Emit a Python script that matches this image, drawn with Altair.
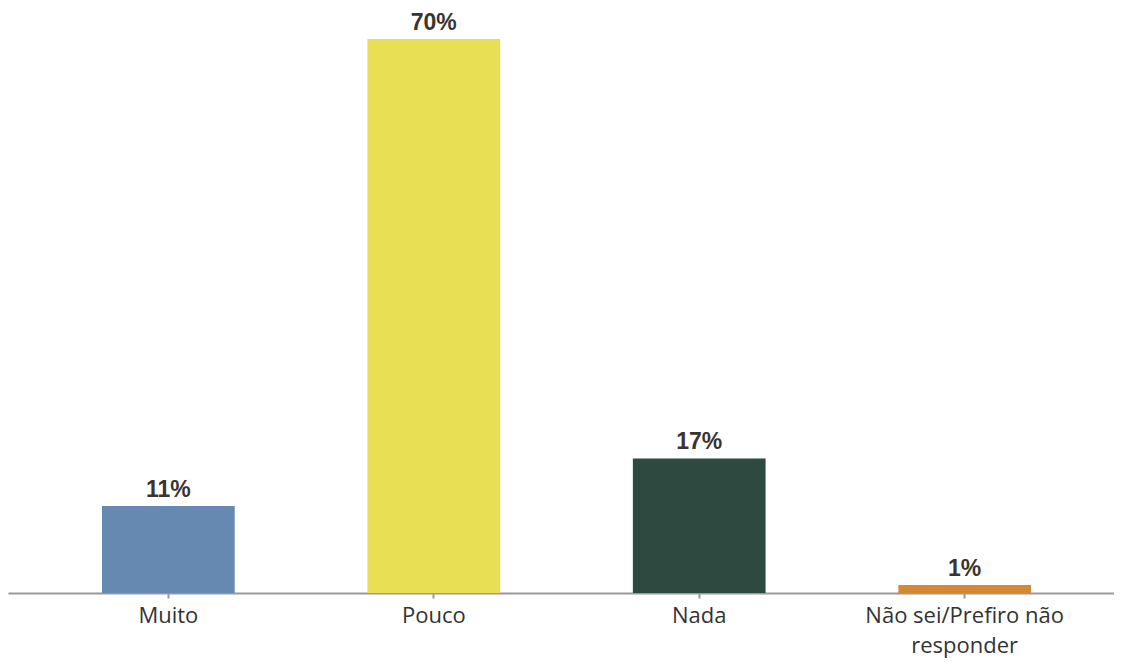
import altair as alt
import pandas as pd

categories = ["Muito", "Pouco", "Nada", "Não sei/Prefiro não responder"]
values = [11, 70, 17, 1]
labels = ["11%", "70%", "17%", "1%"]
colors = ["#6589B0", "#E8DF55", "#2C4A40", "#D58834"]

df = pd.DataFrame({"cat": categories, "val": values, "lab": labels})

x = alt.X(
    "cat:N",
    sort=categories,
    scale=alt.Scale(paddingInner=0.5, paddingOuter=0.354, range=[0, 1117]),
    axis=alt.Axis(
        title=None,
        labelAngle=0,
        labelFont="Open Sans",
        labelFontSize=22,
        labelColor="#333333",
        labelPadding=7,
        labelLineHeight=30,
        labelLimit=0,
        labelExpr="datum.value == 'Não sei/Prefiro não responder' ? ['Não sei/Prefiro não', 'responder'] : datum.value",
        domainColor="#999999",
        domainWidth=2,
        tickColor="#999999",
        tickSize=5,
        tickWidth=2,
        grid=False,
    ),
)
y = alt.Y("val:Q", scale=alt.Scale(domain=[0, 73.92], nice=False), axis=None)

bars = alt.Chart(df).mark_bar().encode(
    x=x,
    y=y,
    color=alt.Color("cat:N", sort=categories, scale=alt.Scale(domain=categories, range=colors), legend=None),
)
text = alt.Chart(df).mark_text(
    baseline="bottom", dy=-4, font="Liberation Sans", fontWeight="bold", fontSize=23, color="#3a3330"
).encode(x=alt.X("cat:N", sort=categories), y=y, text="lab:N")

chart = (
    alt.layer(bars, text)
    .properties(
        width=1106,
        height=585,
        autosize=alt.AutoSizeParams(type="none"),
        padding={"left": 0, "top": 0, "right": 0, "bottom": 65},
    )
    .configure_view(stroke=None)
)
chart.save("out.html", embed_options={"renderer": "svg", "actions": False})
